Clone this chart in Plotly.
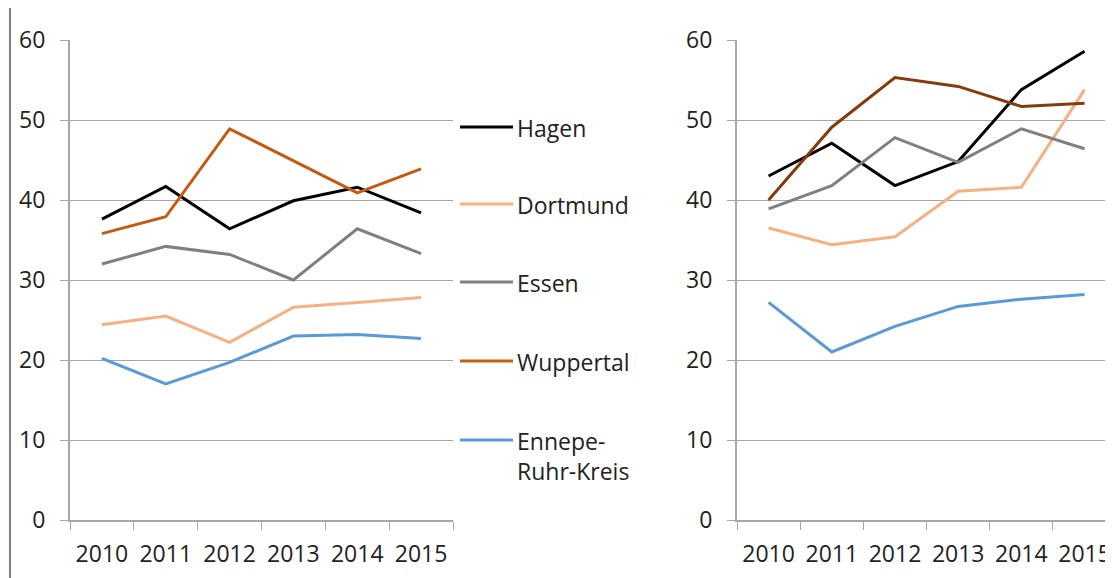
import plotly.graph_objects as go

years = ["2010", "2011", "2012", "2013", "2014", "2015"]
cities = ["Hagen", "Dortmund", "Essen", "Wuppertal", "Ennepe-Ruhr-Kreis"]
legend_labels = ["Hagen", "Dortmund", "Essen", "Wuppertal", "Ennepe-<br>Ruhr-Kreis"]

left_values = {
    "Hagen": [37.6, 41.7, 36.4, 39.9, 41.6, 38.4],
    "Dortmund": [24.4, 25.5, 22.2, 26.6, 27.2, 27.8],
    "Essen": [32.0, 34.2, 33.2, 30.0, 36.4, 33.3],
    "Wuppertal": [35.8, 37.9, 48.9, 44.9, 40.9, 43.9],
    "Ennepe-Ruhr-Kreis": [20.2, 17.0, 19.7, 23.0, 23.2, 22.7],
}
right_values = {
    "Hagen": [43.0, 47.1, 41.8, 44.8, 53.8, 58.6],
    "Dortmund": [36.5, 34.4, 35.4, 41.1, 41.6, 53.8],
    "Essen": [38.9, 41.8, 47.8, 44.7, 48.9, 46.4],
    "Wuppertal": [40.0, 49.1, 55.3, 54.2, 51.7, 52.1],
    "Ennepe-Ruhr-Kreis": [27.2, 21.0, 24.2, 26.7, 27.6, 28.2],
}

left_colors = {"Hagen": "#000000", "Dortmund": "#F4B183", "Essen": "#808080",
               "Wuppertal": "#C55A11", "Ennepe-Ruhr-Kreis": "#5B9BD5"}
right_colors = dict(left_colors, Wuppertal="#843C0C")

# page body has an 8px margin, so the figure sits 8px in from the window corner
OFF = 8
W, H = 1113 - OFF, 578 - OFF
FONT = "Open Sans"
FS = 23
grid = "#A6A6A6"


def px(x):
    return (x - OFF) / W


def py(y):
    return 1 - (y - OFF) / H


fig = go.Figure()
for c in cities:
    fig.add_trace(go.Scatter(x=years, y=left_values[c], mode="lines", name=c,
                             line=dict(color=left_colors[c], width=3),
                             xaxis="x", yaxis="y", showlegend=False))
for c in cities:
    fig.add_trace(go.Scatter(x=years, y=right_values[c], mode="lines", name=c,
                             line=dict(color=right_colors[c], width=3),
                             xaxis="x2", yaxis="y2", showlegend=False))

xaxis_common = dict(type="category", tickson="boundaries", ticks="outside", ticklen=8,
                    tickcolor=grid, tickwidth=1, showline=True, linecolor=grid, linewidth=2,
                    showgrid=False, ticklabelstandoff=12, automargin=False, fixedrange=True)
yaxis_common = dict(range=[0, 60], dtick=10, showgrid=True, gridcolor=grid, gridwidth=1,
                    ticks="outside", ticklen=8, tickcolor=grid, showline=True,
                    linecolor=grid, linewidth=2, zeroline=False, ticklabelstandoff=10,
                    automargin=False, domain=[py(520), py(40)])

fig.update_layout(
    width=W, height=H,
    margin=dict(l=0, r=0, t=0, b=0),
    paper_bgcolor="white", plot_bgcolor="white",
    font=dict(family=FONT, size=FS, color="#222222"),
    xaxis=dict(xaxis_common, domain=[px(70), px(453)], range=[-0.5, 5.5], anchor="y"),
    yaxis=dict(yaxis_common, anchor="x"),
    xaxis2=dict(xaxis_common, domain=[px(737), 1.0], range=[-0.5, 5.45], anchor="y2"),
    yaxis2=dict(yaxis_common, anchor="x2"),
    showlegend=False,
)

# legend drawn by hand, next to the left chart
legend_y = [127, 204, 282, 361, 440]
for label, c, yy in zip(legend_labels, cities, legend_y):
    fig.add_shape(type="line", xref="paper", yref="paper",
                  x0=px(460), x1=px(513), y0=py(yy), y1=py(yy),
                  line=dict(color=left_colors[c], width=3))
    fig.add_annotation(text=label, xref="paper", yref="paper", x=px(515), y=py(yy - 17),
                       xanchor="left", yanchor="top", showarrow=False, align="left",
                       font=dict(family=FONT, size=FS, color="#222222"))

# thin frame line on the left edge
fig.add_shape(type="line", xref="paper", yref="paper", x0=px(10), x1=px(10),
              y0=0, y1=py(8), line=dict(color="black", width=1))

fig.write_html("out.html")
